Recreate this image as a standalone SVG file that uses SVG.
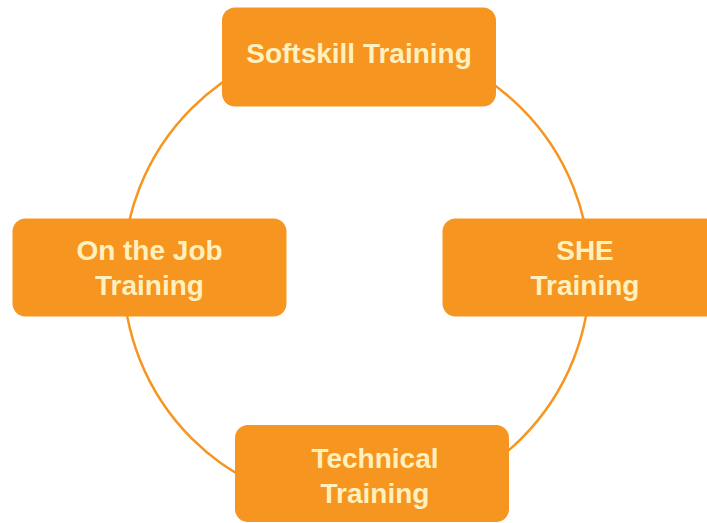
<svg xmlns="http://www.w3.org/2000/svg" width="707" height="523" viewBox="0 0 707 523">
  <style>
    .box { fill: #F6951F; }
    .lbl { font-family: "Liberation Sans", Arial, sans-serif; font-weight: bold; font-size: 28px; fill: #FFF0BE; text-anchor: middle; }
    .ring { fill: none; stroke: #F6951F; stroke-width: 2.5; }
  </style>
  <rect width="707" height="523" fill="#FFFFFF"/>
  <g id="connectors">
    <circle class="ring" cx="356.6" cy="273.3" r="233.3"/>
  </g>
  <g id="softskill">
    <rect class="box" x="222" y="7.5" width="274" height="99" rx="13"/>
    <text class="lbl" x="359" y="63">Softskill Training</text>
  </g>
  <g id="onthejob">
    <rect class="box" x="12.5" y="218.5" width="274" height="98" rx="13"/>
    <text class="lbl" x="149.5" y="260">On the Job</text>
    <text class="lbl" x="149.5" y="295">Training</text>
  </g>
  <g id="she">
    <rect class="box" x="442.5" y="218.5" width="285" height="98" rx="13"/>
    <text class="lbl" x="585" y="260">SHE</text>
    <text class="lbl" x="585" y="295">Training</text>
  </g>
  <g id="technical">
    <rect class="box" x="235" y="425" width="274" height="97" rx="13"/>
    <text class="lbl" x="375" y="468">Technical</text>
    <text class="lbl" x="375" y="503">Training</text>
  </g>
</svg>
